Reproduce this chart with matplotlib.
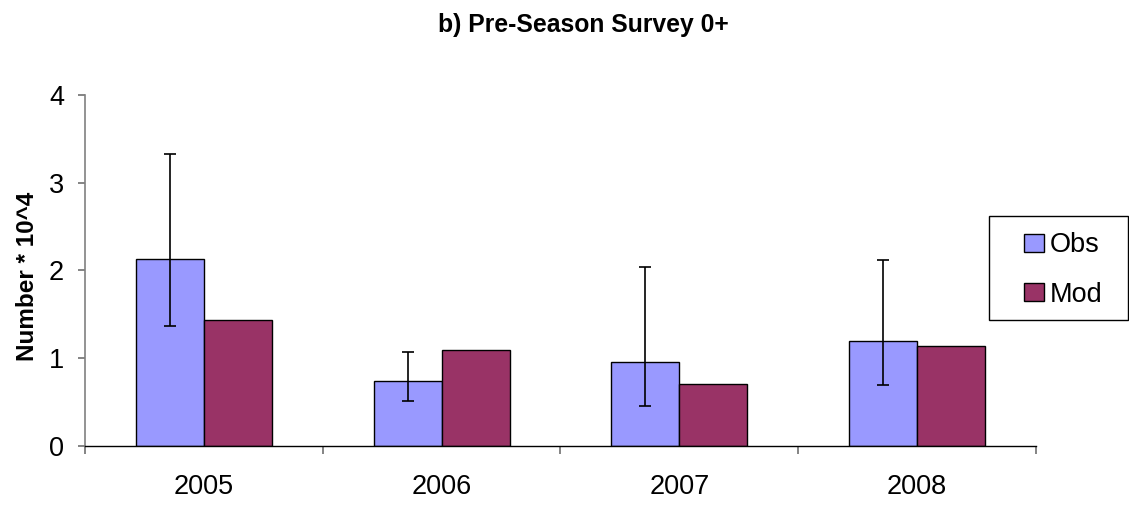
import numpy as np
import matplotlib
matplotlib.use('Agg')
import matplotlib.pyplot as plt
from matplotlib.patches import Rectangle

plt.rcParams['font.family'] = ['Liberation Sans', 'DejaVu Sans']

# valores por ano (Number * 10^4)
anos = ['2005', '2006', '2007', '2008']
obs = [2.13, 0.74, 0.96, 1.20]
obs_min = [1.37, 0.51, 0.45, 0.69]
obs_max = [3.33, 1.07, 2.04, 2.12]
mod = [1.43, 1.09, 0.71, 1.14]

cor_obs = '#9999FF'
cor_mod = '#993366'

fig = plt.figure(figsize=(11.29, 5.11), dpi=100)
ax = fig.add_axes([0.0753, 0.1272, 0.8423, 0.6875])

x = np.arange(len(anos))
largura = 2 / 7  # gap width de 150%

erro = [np.array(obs) - np.array(obs_min), np.array(obs_max) - np.array(obs)]

ax.bar(x - largura / 2, obs, largura, color=cor_obs, edgecolor='black', linewidth=1.0, label='Obs')
ax.bar(x + largura / 2, mod, largura, color=cor_mod, edgecolor='black', linewidth=1.0, label='Mod')
ax.errorbar(x - largura / 2, obs, yerr=erro, fmt='none', ecolor='black', elinewidth=1.2,
            capsize=4.5, capthick=1.2)

ax.set_xlim(-0.5, len(anos) - 0.5)
ax.set_ylim(0, 4)
ax.set_yticks([0, 1, 2, 3, 4])

ax.set_xticks(x)
ax.set_xticklabels(anos)
ax.set_xticks(np.arange(len(anos) + 1) - 0.5, minor=True)
ax.tick_params(axis='x', which='major', length=0, pad=20, labelsize=19.5)
ax.tick_params(axis='x', which='minor', length=6, width=1.2, color='#707070')
ax.tick_params(axis='y', length=5, width=1.2, color='#707070', pad=10, labelsize=19.5)

for lado in ['top', 'right']:
    ax.spines[lado].set_visible(False)
ax.spines['left'].set_color('#808080')
ax.spines['left'].set_linewidth(1.2)
ax.spines['bottom'].set_color('black')
ax.spines['bottom'].set_linewidth(1.0)

fig.text(0.517, 0.951, 'b) Pre-Season Survey 0+', ha='center', va='center',
         fontsize=17.8, fontweight='bold')
fig.text(0.024, 1 - 276 / 511, 'Number * 10^4', rotation=90, ha='center', va='center',
         fontsize=17.5, fontweight='bold')

# legenda com caixa desenhada à parte
fig.patches.append(Rectangle((989 / 1129, 1 - 320 / 511), 139 / 1129, 104 / 511,
                             transform=fig.transFigure, fill=False, edgecolor='black',
                             linewidth=1.0))
fig.legend(loc='center left', bbox_to_anchor=(1010 / 1129, 1 - 270 / 511), frameon=False,
           fontsize=19.5, handlelength=0.75, handleheight=0.6, handletextpad=0.2,
           labelspacing=0.85, borderpad=0.0)

fig.savefig('out.png', dpi=100)
